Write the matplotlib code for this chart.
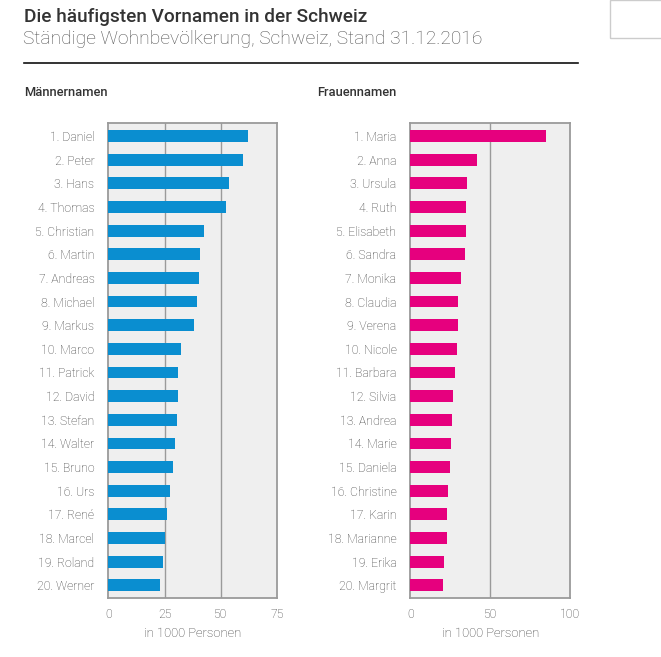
import matplotlib
matplotlib.use("Agg")
import matplotlib.pyplot as plt
from matplotlib.patches import Rectangle
from matplotlib.lines import Line2D

plt.rcParams['font.family'] = ['Roboto', 'DejaVu Sans']

men_names = ["Daniel", "Peter", "Hans", "Thomas", "Christian", "Martin", "Andreas",
             "Michael", "Markus", "Marco", "Patrick", "David", "Stefan", "Walter",
             "Bruno", "Urs", "René", "Marcel", "Roland", "Werner"]
men_values = [62.1, 59.9, 53.7, 52.4, 42.4, 40.8, 40.3, 39.5, 38.1, 32.3,
              31.0, 31.0, 30.6, 29.7, 28.8, 27.5, 26.1, 25.1, 24.3, 23.0]

women_names = ["Maria", "Anna", "Ursula", "Ruth", "Elisabeth", "Sandra", "Monika",
               "Claudia", "Verena", "Nicole", "Barbara", "Silvia", "Andrea", "Marie",
               "Daniela", "Christine", "Karin", "Marianne", "Erika", "Margrit"]
women_values = [84.8, 41.7, 35.4, 34.8, 34.8, 34.0, 31.7, 29.8, 29.8, 29.2,
                27.9, 26.7, 26.0, 25.4, 24.8, 23.6, 22.9, 22.9, 21.0, 20.4]

men_ticks = [0, 25, 50, 75]
women_ticks = [0, 50, 100]

title = "Die häufigsten Vornamen in der Schweiz"
subtitle = "Ständige Wohnbevölkerung, Schweiz, Stand 31.12.2016"
xlabel = "in 1000 Personen"

W, H = 661, 657
fig = plt.figure(figsize=(W / 100, H / 100), dpi=100)

def fx(px):
    return px / W

def fy(py):
    return 1 - py / H

grid_col = "#9a9a9a"
txt_col = "#3c3c3c"

def panel(left_px, right_px, names, values, ticks, color, label, label_x):
    ax = fig.add_axes([fx(left_px), fy(598.3), fx(right_px - left_px), (598.3 - 123) / H])
    ax.set_facecolor("#efefef")
    n = len(names)
    ypos = list(range(n))
    ax.barh(ypos, values, height=0.5, color=color, zorder=3)
    ax.set_ylim(n - 1 + 0.55, -0.55)
    ax.set_xlim(ticks[0], ticks[-1])
    ax.set_yticks(ypos)
    ax.set_yticklabels([f"{i + 1}. {nm}" for i, nm in enumerate(names)],
                       fontsize=8.8, color=txt_col, fontweight='light')
    ax.set_xticks(ticks)
    ax.set_xticklabels([str(t) for t in ticks], fontsize=8.8, color=txt_col, fontweight='light')
    ax.tick_params(axis='both', length=0)
    ax.tick_params(axis='y', pad=10)
    ax.tick_params(axis='x', pad=7)
    for t in ticks[1:-1]:
        ax.axvline(t, color=grid_col, lw=1.0, zorder=1)
    for s in ax.spines.values():
        s.set_color(grid_col)
        s.set_linewidth(1.3)
    ax.set_xlabel(xlabel, fontsize=9.4, color=txt_col, fontweight='light', labelpad=4)
    fig.text(fx(label_x), fy(93), label, fontsize=9.3, color="#333333",
             fontweight='medium', va='center', ha='left')
    return ax

panel(108.3, 277, men_names, men_values, men_ticks, "#0a8ed0", "Männernamen", 24)
panel(410.3, 570.3, women_names, women_values, women_ticks, "#e6007e", "Frauennamen", 316.7)

fig.text(fx(24), fy(16.5), title, fontsize=13.7, color="#333333", fontweight='medium',
         va='center', ha='left')
fig.text(fx(23), fy(39.5), subtitle, fontsize=13.9, color="#555555", fontweight='light',
         va='center', ha='left')

fig.add_artist(Line2D([fx(24), fx(578)], [fy(62.7), fy(62.7)], color="#111111", lw=1.2))

fig.add_artist(Rectangle((fx(610), fy(38)), fx(60), 38 / H, fill=False,
                         edgecolor="#cccccc", lw=1.0))

fig.savefig("out.png", dpi=100)
